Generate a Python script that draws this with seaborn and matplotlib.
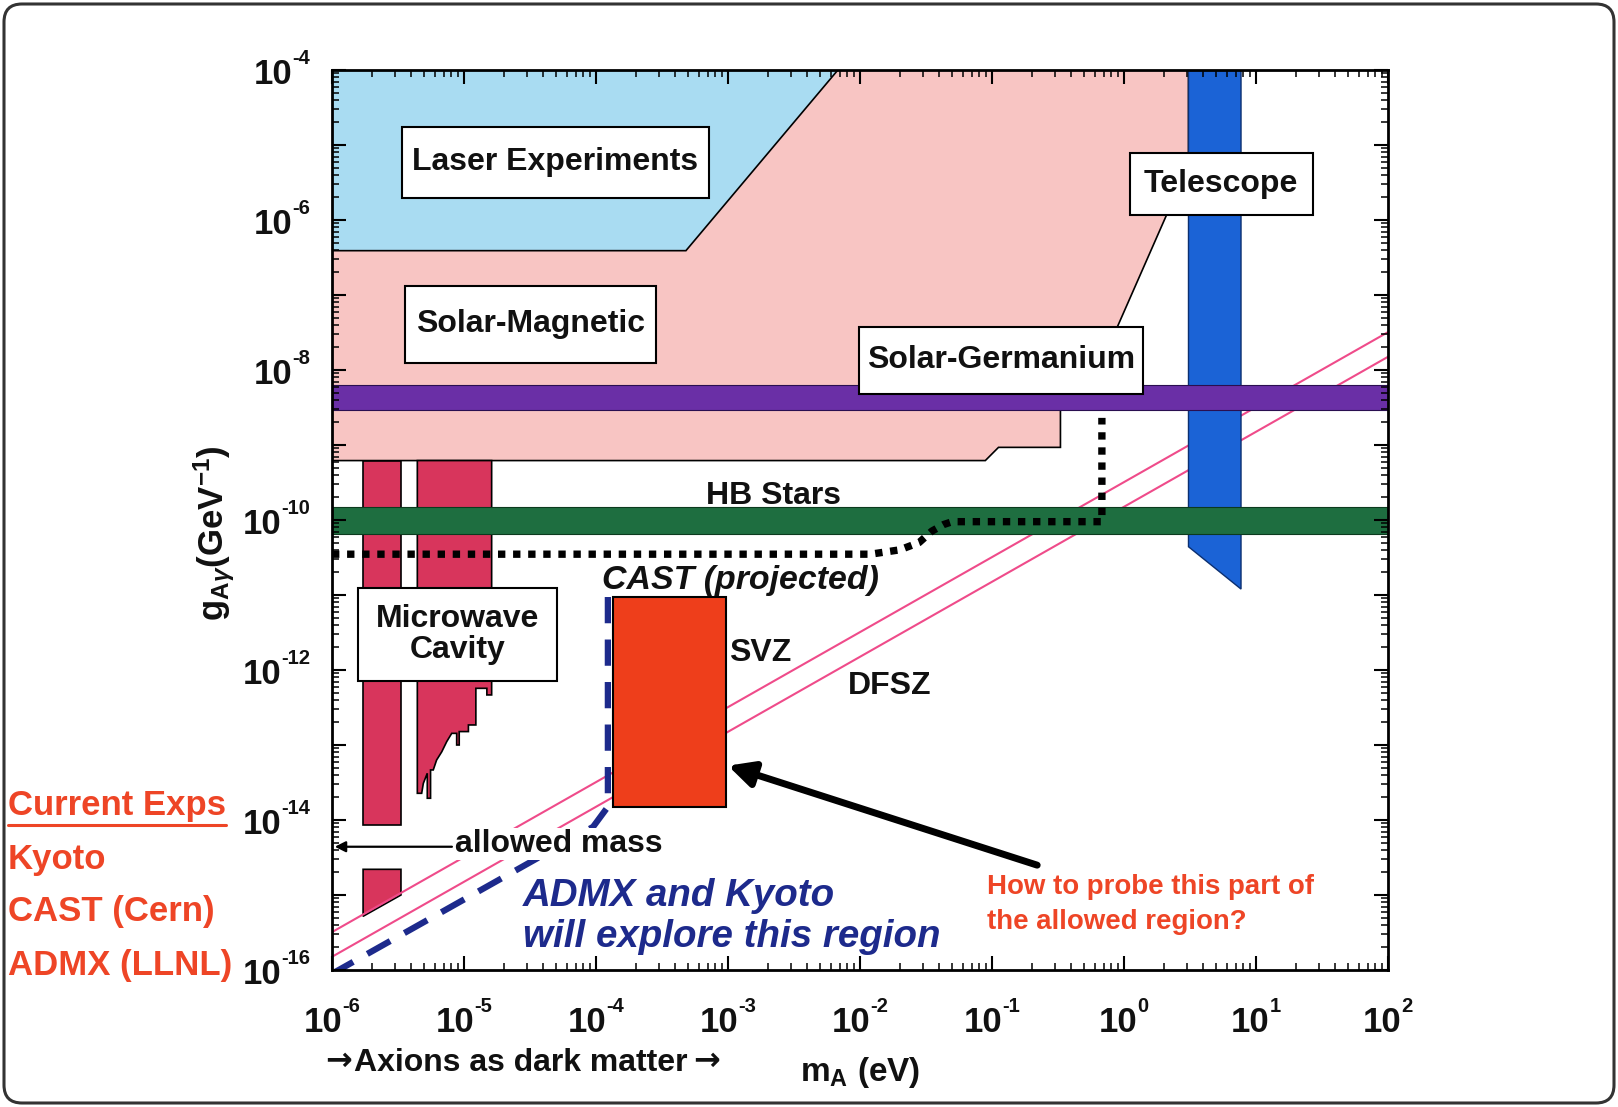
import matplotlib
matplotlib.use("Agg")
import matplotlib.pyplot as plt
import seaborn as sns
import numpy as np
import pandas as pd
from matplotlib.patches import Rectangle, FancyBboxPatch
from matplotlib.ticker import LogLocator, NullFormatter
from matplotlib.lines import Line2D
import matplotlib.transforms as mtransforms

# ---------------- data (m_A in eV, g in GeV^-1) ----------------
laser_m = [1e-6, 1e-6, 4.8e-4, 6.8e-3]
laser_g = [1e-4, 3.9e-7, 3.9e-7, 1e-4]

solar_mag_m = [1e-6, 3.08, 3.08, 0.57, 0.33, 0.33, 0.112, 0.089, 1e-6]
solar_mag_g = [1e-4, 1e-4, 5.4e-6, 6.3e-9, 2.9e-9, 9.3e-10, 9.3e-10, 6.2e-10, 6.2e-10]

solar_ge_band = [2.9e-9, 6.4e-9]
hb_band = [6.5e-11, 1.47e-10]

telescope_m = [3.08, 7.7, 7.7, 3.08]
telescope_g = [1e-4, 1e-4, 1.2e-11, 4.4e-11]

mw1_upper_m = [1.72e-6, 3.33e-6, 3.33e-6, 1.72e-6]
mw1_upper_g = [6.2e-10, 6.2e-10, 8.5e-15, 8.5e-15]
mw1_lower_m = [1.72e-6, 3.33e-6, 3.33e-6, 1.72e-6]
mw1_lower_g = [2.2e-15, 2.2e-15, 1.0e-15, 5.2e-16]

mw2_m = [4.43e-6, 1.62e-5, 1.62e-5, 1.49e-5, 1.49e-5, 1.23e-5, 1.23e-5, 1.08e-5,
         1.08e-5, 9.2e-6, 9.2e-6, 8.8e-6, 8.8e-6, 8.07e-6, 7.4e-6, 6.78e-6, 6.2e-6,
         5.85e-6, 5.58e-6, 5.58e-6, 5.27e-6, 5.27e-6, 4.92e-6, 4.78e-6, 4.43e-6]
mw2_g = [6.2e-10, 6.2e-10, 4.65e-13, 4.65e-13, 5.7e-13, 5.7e-13, 1.85e-13, 1.85e-13,
         1.51e-13, 1.51e-13, 1.0e-13, 1.0e-13, 1.43e-13, 1.43e-13, 1.11e-13, 8.1e-14, 6.3e-14,
         4.65e-14, 4.65e-14, 1.95e-14, 1.95e-14, 4.2e-14, 3.08e-14, 2.27e-14, 2.27e-14]

cast_box_m = [1.35e-4, 9.7e-4]
cast_box_g = [1.5e-14, 9.4e-12]

svz_m = [1e-6, 1e2]
svz_g = [3.2e-16, 3.2e-8]
dfsz_m = [1e-6, 1e2]
dfsz_g = [1.5e-16, 1.5e-8]

cast_proj_m = [1e-6, 0.012, 0.02, 0.028, 0.035, 0.043, 0.05, 0.68, 0.68]
cast_proj_g = [3.5e-11, 3.5e-11, 4.0e-11, 5.0e-11, 7.1e-11, 8.7e-11, 9.5e-11, 9.5e-11, 2.3e-9]

admx_m = [1.23e-4, 1.23e-4, 9.5e-5, 1e-6]
admx_g = [9.4e-12, 1.5e-14, 8.1e-15, 8.9e-17]

allowed_arrow_m = [8.1e-6, 1.05e-6]
allowed_arrow_g = [4.4e-15, 4.4e-15]
probe_arrow_m = [0.22, 1.0e-3]
probe_arrow_g = [2.5e-15, 5.3e-14]

x_exponents = [-6, -5, -4, -3, -2, -1, 0, 1, 2]
y_exponents = [-16, -14, -12, -10, -8, -6, -4]

left_labels = ["Current Exps", "Kyoto", "CAST (Cern)", "ADMX (LLNL)"]

# ---------------- style ----------------
sns.set_theme(style="white")
plt.rcParams["font.family"] = ["Liberation Sans", "DejaVu Sans"]
plt.rcParams["font.weight"] = "bold"
plt.rcParams["mathtext.fontset"] = "custom"
plt.rcParams["mathtext.rm"] = "Liberation Sans:bold"
plt.rcParams["mathtext.bf"] = "Liberation Sans:bold"
plt.rcParams["mathtext.it"] = "Liberation Sans:bold:italic"
plt.rcParams["mathtext.sf"] = "Liberation Sans:bold"

C_LASER = "#a9dcf2"
C_PINK = "#f8c5c3"
C_PURPLE = "#6a2fa6"
C_GREEN = "#1e6e40"
C_MW = "#d8355c"
C_CAST = "#ee3e1b"
C_TEL = "#1b63d6"
C_LINE = "#ef4b8a"
C_NAVY = "#1d2a8c"
C_RED = "#ee4526"
C_TXT = "#111111"

W, H = 1618, 1107
fig = plt.figure(figsize=(W / 100, H / 100), dpi=100)
fig.patch.set_facecolor("white")
ax = fig.add_axes([332 / W, 1 - 970 / H, 1056 / W, 900 / H])
ax.set_xscale("log")
ax.set_yscale("log")
ax.set_xlim(1e-6, 1e2)
ax.set_ylim(1e-16, 1e-4)
ax.set_facecolor("white")

# regions
ax.fill(solar_mag_m, solar_mag_g, facecolor=C_PINK, edgecolor="black", lw=1.2, zorder=1)
ax.fill(laser_m, laser_g, facecolor=C_LASER, edgecolor="black", lw=1.2, zorder=1.2)
ax.fill(mw1_upper_m, mw1_upper_g, facecolor=C_MW, edgecolor="black", lw=1.2, zorder=1.5)
ax.fill(mw1_lower_m, mw1_lower_g, facecolor=C_MW, edgecolor="black", lw=1.2, zorder=1.5)
ax.fill(mw2_m, mw2_g, facecolor=C_MW, edgecolor="black", lw=1.2, zorder=1.5)

# axion model lines
line_df = pd.DataFrame({
    "m": svz_m + dfsz_m,
    "g": svz_g + dfsz_g,
    "model": ["SVZ"] * 2 + ["DFSZ"] * 2,
})
sns.lineplot(data=line_df, x="m", y="g", units="model", estimator=None, sort=False,
             color=C_LINE, lw=1.5, ax=ax, zorder=1.7, legend=False)

ax.fill(telescope_m, telescope_g, facecolor=C_TEL, edgecolor="#0b2f70", lw=1.0, zorder=2.0)

ax.axhspan(solar_ge_band[0], solar_ge_band[1], facecolor=C_PURPLE, edgecolor="#2a0f50", lw=0.8, zorder=2.2)
ax.axhspan(hb_band[0], hb_band[1], facecolor=C_GREEN, edgecolor="#0c3a1e", lw=0.8, zorder=2.2)

ax.fill([cast_box_m[0], cast_box_m[1], cast_box_m[1], cast_box_m[0]],
        [cast_box_g[0], cast_box_g[0], cast_box_g[1], cast_box_g[1]],
        facecolor=C_CAST, edgecolor="black", lw=1.5, zorder=2.6)

sns.lineplot(x=admx_m, y=admx_g, estimator=None, sort=False, color=C_NAVY,
             lw=4.5, linestyle=(0, (4.2, 2.6)), ax=ax, zorder=2.5)
sns.lineplot(x=cast_proj_m, y=cast_proj_g, estimator=None, sort=False, color="black",
             lw=5.3, linestyle=(0, (1.0, 1.05)), ax=ax, zorder=3)

# arrows
ax.annotate("", xy=(allowed_arrow_m[1], allowed_arrow_g[1]),
            xytext=(allowed_arrow_m[0], allowed_arrow_g[0]),
            arrowprops=dict(arrowstyle="-|>", lw=1.6, color="black", mutation_scale=16,
                            shrinkA=0, shrinkB=0), zorder=5)
ax.annotate("", xy=(probe_arrow_m[1], probe_arrow_g[1]),
            xytext=(probe_arrow_m[0], probe_arrow_g[0]),
            arrowprops=dict(arrowstyle="-|>", lw=5, color="black", mutation_scale=38,
                            shrinkA=0, shrinkB=0), zorder=5)

# labelled boxes (axes fraction extents)
boxes = [
    ("Laser Experiments", 0.0665, 0.3568, 0.8578, 0.9369),
    ("Solar-Magnetic", 0.0694, 0.3069, 0.6743, 0.7603),
    ("Telescope", 0.7556, 0.9286, 0.8394, 0.9083),
    ("Solar-Germanium", 0.4995, 0.7683, 0.6400, 0.7150),
    ("Microwave\nCavity", 0.0244, 0.2131, 0.3211, 0.4243),
]
for label, x0, x1, y0, y1 in boxes:
    ax.add_patch(Rectangle((x0, y0), x1 - x0, y1 - y0, transform=ax.transAxes,
                           facecolor="white", edgecolor="black", lw=1.5, zorder=6))
    ax.text((x0 + x1) / 2, (y0 + y1) / 2, label, transform=ax.transAxes, ha="center",
            va="center", fontsize=23, fontweight="bold", color=C_TXT, zorder=7,
            linespacing=1.08)

ax.text(2.2e-3, 2.1e-10, "HB Stars", ha="center", va="center", fontsize=23,
        fontweight="bold", color=C_TXT, zorder=7)
ax.text(1.25e-3, 1.55e-11, "CAST (projected)", ha="center", va="center", fontsize=24.4,
        fontweight="bold", style="italic", color=C_TXT, zorder=7)
ax.text(1.02e-3, 1.68e-12, "SVZ", ha="left", va="center", fontsize=23,
        fontweight="bold", color=C_TXT, zorder=7)
ax.text(8.1e-3, 6.1e-13, "DFSZ", ha="left", va="center", fontsize=23,
        fontweight="bold", color=C_TXT, zorder=7)
ax.text(8.5e-6, 4.8e-15, "allowed mass", ha="left", va="center", fontsize=23,
        fontweight="bold", color=C_TXT, zorder=7,
        bbox=dict(facecolor="white", edgecolor="none", pad=1.0))
ax.text(2.79e-5, 5.1e-16, "ADMX and Kyoto\nwill explore this region", ha="left",
        va="center", fontsize=27.7, fontweight="bold", style="italic", color=C_NAVY,
        zorder=7, linespacing=1.18)
ax.text(0.092, 7.4e-16, "How to probe this part of\nthe allowed region?", ha="left",
        va="center", fontsize=19.9, fontweight="bold", color=C_RED, zorder=7,
        linespacing=1.45)

# ticks
ax.xaxis.set_major_locator(LogLocator(base=10, numticks=20))
ax.yaxis.set_major_locator(LogLocator(base=10, numticks=20))
ax.xaxis.set_minor_locator(LogLocator(base=10, subs=np.arange(2, 10), numticks=200))
ax.yaxis.set_minor_locator(LogLocator(base=10, subs=np.arange(2, 10), numticks=200))
for a in (ax.xaxis, ax.yaxis):
    a.set_major_formatter(NullFormatter())
    a.set_minor_formatter(NullFormatter())
ax.tick_params(which="both", direction="in", top=True, right=True, bottom=True, left=True,
               color="black")
ax.tick_params(which="major", length=10, width=1.5)
ax.tick_params(which="minor", length=5, width=1.1)
for sp in ax.spines.values():
    sp.set_linewidth(2.0)
    sp.set_color("black")
    sp.set_zorder(10)
ax.xaxis.set_zorder(10)
ax.yaxis.set_zorder(10)
ax.set_xlabel("")
ax.set_ylabel("")

# hand-set tick labels "10" + small superscript exponent
renderer = fig.canvas.get_renderer()


def measure(s, size):
    t = fig.text(0, 0, s, fontsize=size, fontweight="bold")
    w = t.get_window_extent(renderer).width
    t.remove()
    return w


BASE, SUP = 25, 14.5
w10 = measure("10", BASE)
ytrans = mtransforms.blended_transform_factory(ax.transAxes, ax.transData)
for e in y_exponents:
    sup = f"-{abs(e)}" if e < 0 else f"{e}"
    ws = measure(sup, SUP)
    ax.text(0, 10.0 ** e, sup, transform=mtransforms.offset_copy(ytrans, x=-22, y=6, units="dots"),
            ha="right", va="baseline", fontsize=SUP, fontweight="bold", color=C_TXT, clip_on=False)
    ax.text(0, 10.0 ** e, "10", transform=mtransforms.offset_copy(ytrans, x=-22 - ws, y=-14, units="dots"),
            ha="right", va="baseline", fontsize=BASE, fontweight="bold", color=C_TXT, clip_on=False)

xtrans = mtransforms.blended_transform_factory(ax.transData, ax.transAxes)
for e in x_exponents:
    sup = f"-{abs(e)}" if e < 0 else f"{e}"
    ws = measure(sup, SUP)
    left = -(w10 + ws) / 2
    ax.text(10.0 ** e, 0, "10", transform=mtransforms.offset_copy(xtrans, x=left, y=-62, units="dots"),
            ha="left", va="baseline", fontsize=BASE, fontweight="bold", color=C_TXT, clip_on=False)
    ax.text(10.0 ** e, 0, sup, transform=mtransforms.offset_copy(xtrans, x=left + w10, y=-42, units="dots"),
            ha="left", va="baseline", fontsize=SUP, fontweight="bold", color=C_TXT, clip_on=False)

# figure-level labels
fig.text(214 / W, 1 - 533 / H, r"$\mathrm{g}_{\mathrm{A}\gamma}$(GeV$^{-1}$)", rotation=90,
         ha="center", va="center", fontsize=25, fontweight="bold", color=C_TXT)
fig.text(860 / W, 1 - 1073 / H, r"$\mathrm{m}_{\mathrm{A}}$ (eV)", ha="center", va="center",
         fontsize=24, fontweight="bold", color=C_TXT)
fig.text(354 / W, 1 - 1063 / H, "Axions as dark matter", ha="left", va="center",
         fontsize=23, fontweight="bold", color=C_TXT)
fig.text(352 / W, 1 - 1061 / H, "\u2192", ha="right", va="center", fontsize=23,
         fontweight="bold", color=C_TXT, family=["DejaVu Sans"])
fig.text(693 / W, 1 - 1061 / H, "\u2192", ha="left", va="center", fontsize=23,
         fontweight="bold", color=C_TXT, family=["DejaVu Sans"])

left_y = [805, 860, 911, 965]
txts = []
for lab, yy in zip(left_labels, left_y):
    txts.append(fig.text(8 / W, 1 - yy / H, lab, ha="left", va="center", fontsize=25,
                         fontweight="bold", color=C_RED))

fig.canvas.draw()
bb = txts[0].get_window_extent()
fig.add_artist(Line2D([bb.x0 / W, bb.x1 / W], [(bb.y0 - 3) / H, (bb.y0 - 3) / H],
                      transform=fig.transFigure, color=C_RED, lw=2.2))

# outer rounded frame
frame = FancyBboxPatch((4, 4), W - 8, H - 8, boxstyle="round,pad=0,rounding_size=18",
                       transform=mtransforms.IdentityTransform(), facecolor="none",
                       edgecolor="#333333", lw=2.2, zorder=20)
fig.patches.append(frame)

fig.savefig("out.png", dpi=100)
